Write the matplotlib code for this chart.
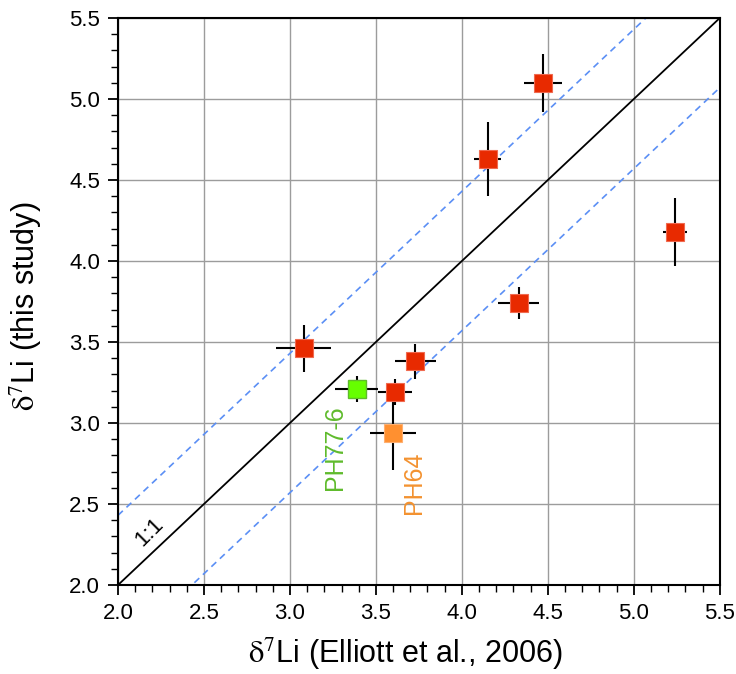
import numpy as np
import matplotlib
matplotlib.use("Agg")
import matplotlib.pyplot as plt
from matplotlib.ticker import MultipleLocator

plt.rcParams["font.family"] = ["Liberation Sans", "DejaVu Sans"]
plt.rcParams["mathtext.fontset"] = "stix"

# d7Li data: Elliott et al. (2006) vs this study
x_red = [3.08, 3.61, 3.73, 4.33, 4.15, 4.47, 5.24]
y_red = [3.46, 3.19, 3.38, 3.74, 4.63, 5.10, 4.18]
xerr_red = [0.16, 0.10, 0.12, 0.12, 0.08, 0.11, 0.07]
yerr_red = [0.145, 0.08, 0.11, 0.10, 0.23, 0.18, 0.21]

x_ph776, y_ph776 = 3.39, 3.21
xerr_ph776, yerr_ph776 = 0.125, 0.083

x_ph64, y_ph64 = 3.60, 2.94
xerr_ph64, yerr_ph64 = 0.135, 0.23

offset = 0.43
lims = [2.0, 5.5]

fig = plt.figure(figsize=(7.36, 6.74), dpi=100)
ax = fig.add_axes([0.1603, 0.132, 0.8177, 0.8413])

ax.grid(True, which="major", color="#9c9c9c", lw=1.0, zorder=0)

line = np.array(lims)
ax.plot(line, line, color="black", lw=1.3, zorder=2)
ax.plot(line, line + offset, color="#5b8ff5", lw=1.2, ls=(0, (4, 3)), zorder=2)
ax.plot(line, line - offset, color="#5b8ff5", lw=1.2, ls=(0, (4, 3)), zorder=2)

ax.errorbar(x_red, y_red, xerr=xerr_red, yerr=yerr_red, fmt="none",
            ecolor="black", elinewidth=1.5, capsize=0, zorder=3)
ax.errorbar(x_ph776, y_ph776, xerr=xerr_ph776, yerr=yerr_ph776, fmt="none",
            ecolor="black", elinewidth=1.5, capsize=0, zorder=3)
ax.errorbar(x_ph64, y_ph64, xerr=xerr_ph64, yerr=yerr_ph64, fmt="none",
            ecolor="black", elinewidth=1.5, capsize=0, zorder=3)

ax.plot(x_red, y_red, "s", ms=13.5, mfc="#e82a00", mec="#f06a50", mew=0.8,
        ls="none", zorder=4)
ax.plot(x_ph776, y_ph776, "s", ms=13.5, mfc="#66ff00", mec="#5fbb2c", mew=1.0,
        zorder=4)
ax.plot(x_ph64, y_ph64, "s", ms=13.5, mfc="#ff9030", mec="#ffb070", mew=0.8,
        zorder=4)

ax.text(3.262, 2.85, "PH77-6", color="#5fbb2c", rotation=90, fontsize=18,
        ha="center", va="center")
ax.text(3.724, 2.633, "PH64", color="#f39230", rotation=90, fontsize=18,
        ha="center", va="center")
ax.text(2.18, 2.327, "1:1", color="black", rotation=45, fontsize=16,
        ha="center", va="center")

ax.set_xlim(lims)
ax.set_ylim(lims)
ax.xaxis.set_major_locator(MultipleLocator(0.5))
ax.yaxis.set_major_locator(MultipleLocator(0.5))
ax.xaxis.set_minor_locator(MultipleLocator(0.1))
ax.yaxis.set_minor_locator(MultipleLocator(0.1))
ax.xaxis.set_major_formatter(plt.FormatStrFormatter("%.1f"))
ax.yaxis.set_major_formatter(plt.FormatStrFormatter("%.1f"))
ax.tick_params(which="major", direction="out", length=7, width=1.3,
               labelsize=16, pad=6)
ax.tick_params(which="minor", direction="out", length=5, width=1.0)
for s in ax.spines.values():
    s.set_linewidth(1.5)

ax.set_xlabel(r"$\mathrm{\delta}^{7}$Li (Elliott et al., 2006)", fontsize=22)
ax.set_ylabel(r"$\mathrm{\delta}^{7}$Li (this study)", fontsize=22)
ax.xaxis.set_label_coords(0.478, -0.09)
ax.yaxis.set_label_coords(-0.123, 0.491)

fig.savefig("out.png", dpi=100)
